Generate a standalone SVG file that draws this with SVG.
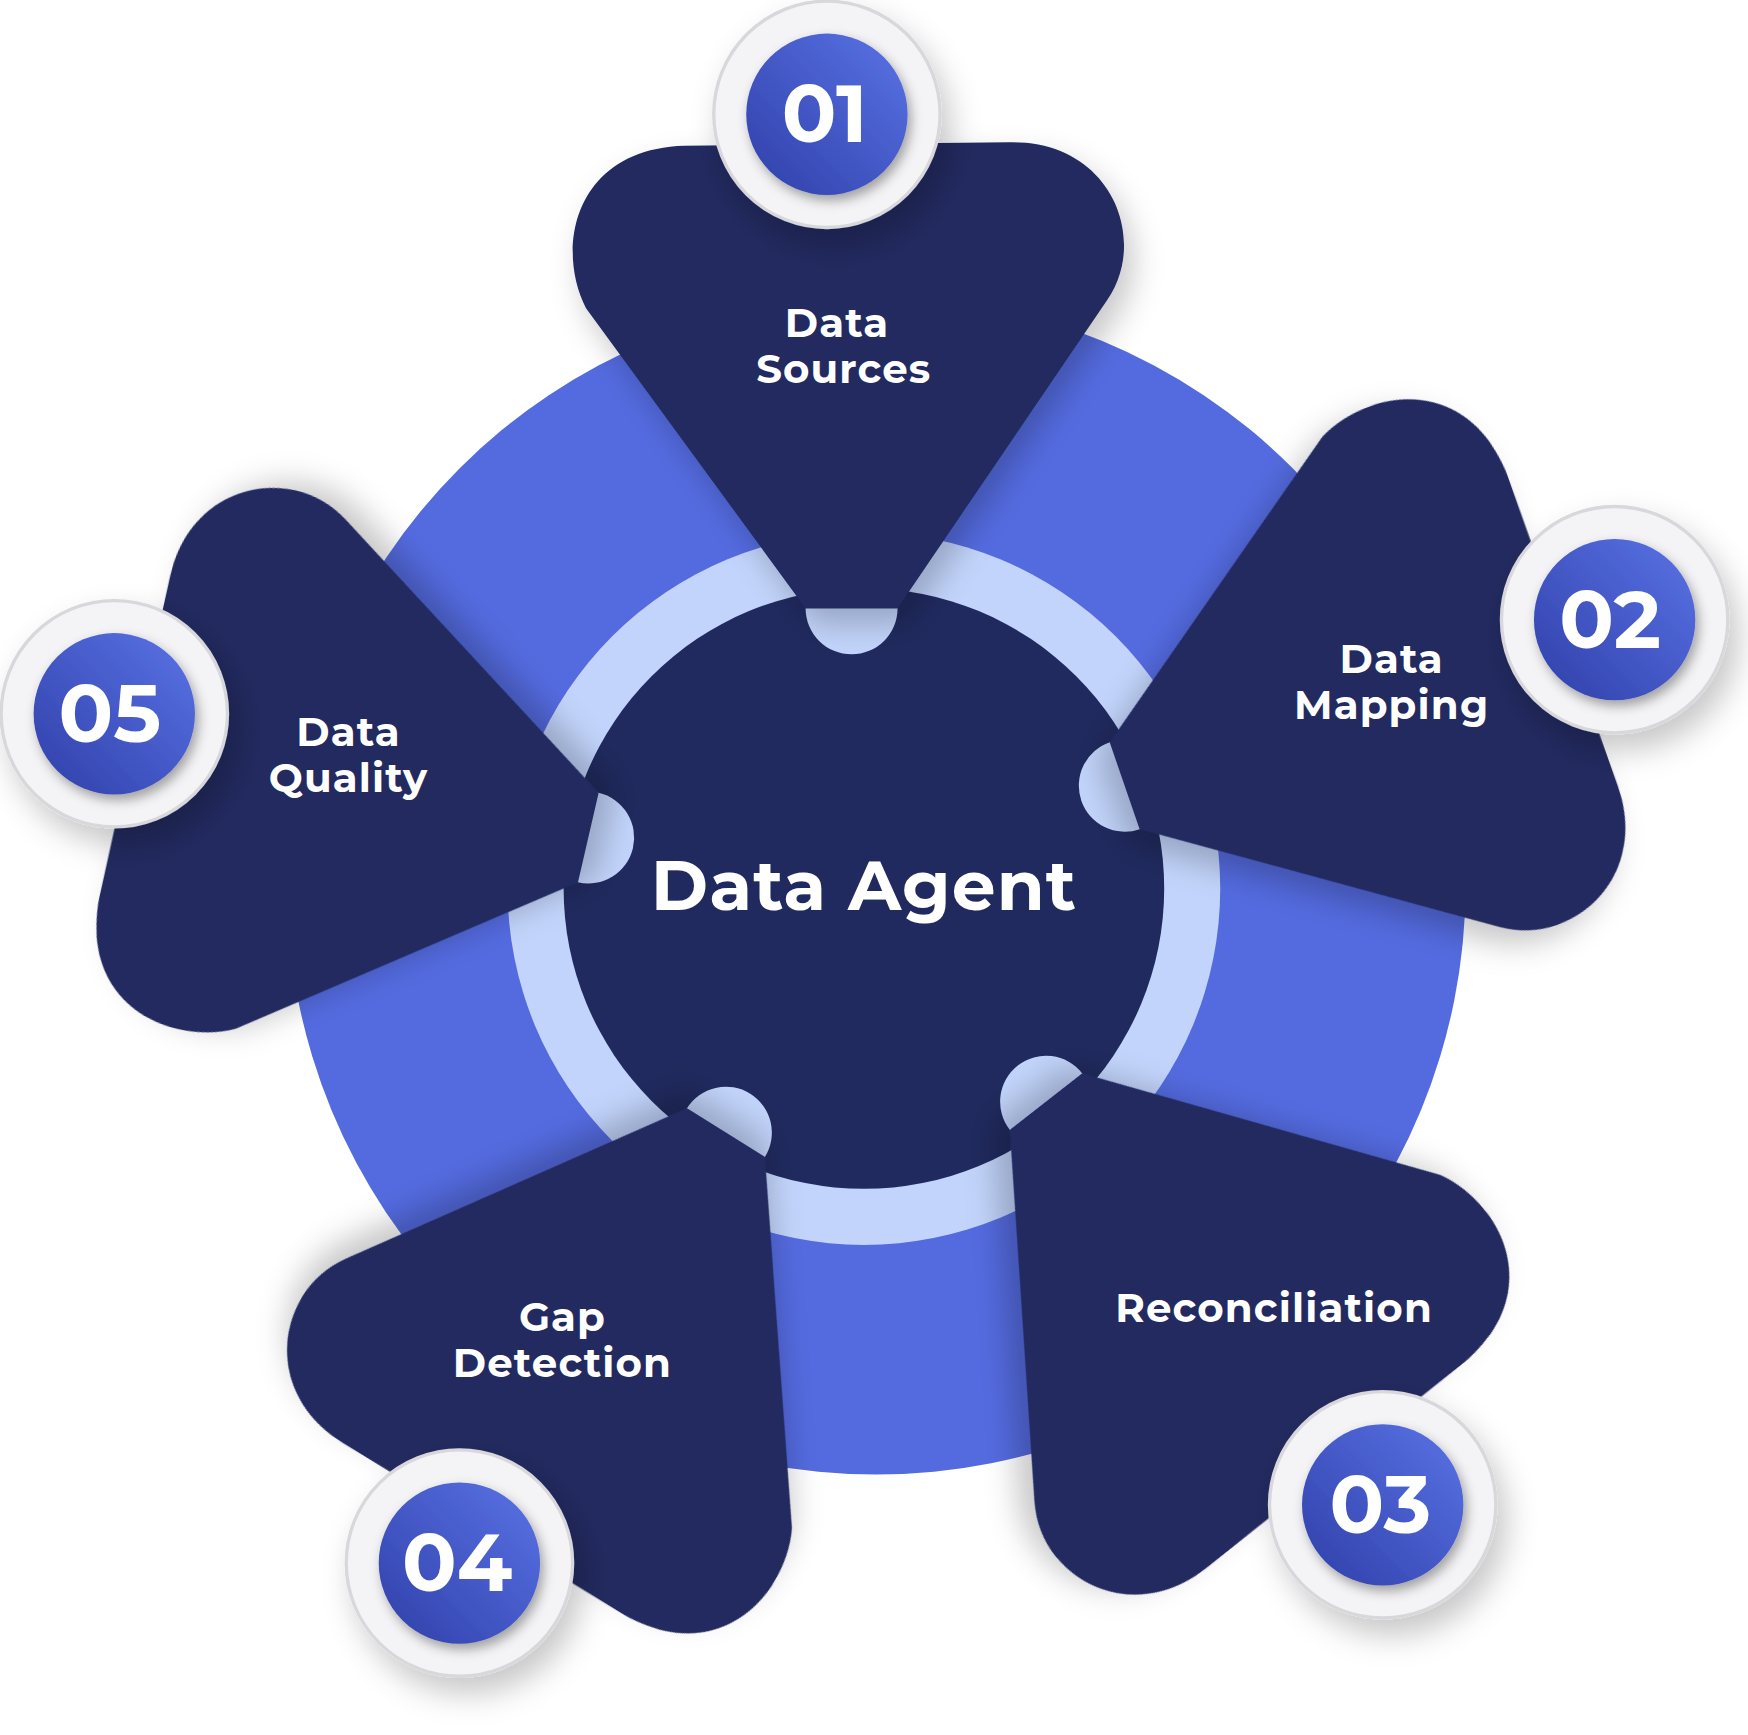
<svg xmlns="http://www.w3.org/2000/svg" width="1748" height="1735" viewBox="0 0 1748 1735">
<style>
.petal{fill:#202a5e;filter:url(#sh)}
.tip{fill:#c2d4fb}
.lbl{font-family:"Montserrat","Open Sans","Liberation Sans",sans-serif;font-weight:700;fill:#fff;font-size:36px;text-anchor:middle;letter-spacing:1px}
.num{font-family:"Montserrat","Open Sans","Liberation Sans",sans-serif;font-weight:700;fill:#fff;font-size:72px;text-anchor:middle}
.bo{fill:#f4f4f6;stroke:#d8d8dc;stroke-width:3;filter:url(#sh)}
.bi{fill:url(#bg);filter:url(#sh2)}
</style>
<defs>
<filter id="sh" x="-30%" y="-30%" width="160%" height="160%"><feDropShadow dx="8" dy="14" stdDeviation="14" flood-color="#000" flood-opacity="0.22"/></filter>
<filter id="sh2" x="-30%" y="-30%" width="160%" height="160%"><feDropShadow dx="3" dy="5" stdDeviation="5" flood-color="#000" flood-opacity="0.35"/></filter>
<linearGradient id="bg" x1="0" y1="1" x2="1" y2="0"><stop offset="0" stop-color="#2f3fa8"/><stop offset="1" stop-color="#5a73e6"/></linearGradient>
<path id="pt" d="M -52,-250 L -248,-518 C -275,-570 -260,-660 -160,-663 L 130,-666 C 220,-668 255,-580 217,-525 L 30,-250 Z"/>
<circle id="tp" cx="-11" cy="-250" r="41"/>
</defs>
<rect width="1748" height="1735" fill="#fff"/>
<g transform="scale(1.1205)">
<g id="ring">
<circle cx="782" cy="790" r="526" fill="#546be0"/>
<circle cx="771" cy="793" r="318" fill="#c2d4fb"/>
<circle cx="771" cy="793" r="268" fill="#202a5e"/>
<use href="#tp" class="tip" transform="translate(771,793) rotate(0)"/>
<use href="#tp" class="tip" transform="translate(771,793) rotate(71)"/>
<use href="#tp" class="tip" transform="translate(771,793) rotate(142)"/>
<use href="#tp" class="tip" transform="translate(771,793) rotate(212)"/>
<use href="#tp" class="tip" transform="translate(771,793) rotate(283)"/>
</g>
<g id="connectors">
<use href="#pt" class="petal" transform="translate(771,793) rotate(0)"/>
<use href="#pt" class="petal" transform="translate(771,793) rotate(71)"/>
<use href="#pt" class="petal" transform="translate(771,793) rotate(142)"/>
<use href="#pt" class="petal" transform="translate(771,793) rotate(212)"/>
<use href="#pt" class="petal" transform="translate(771,793) rotate(283)"/>
</g>
<g id="center">
<text x="771" y="812" class="lbl" style="font-size:62px">Data Agent</text></g>
<g id="n1"><circle cx="738" cy="102" r="101" class="bo"/><circle cx="738" cy="102" r="72" class="bi"/><text x="736" y="127" class="num">01</text>
<text x="747" y="301" class="lbl">Data</text><text x="753" y="342" class="lbl">Sources</text></g>
<g id="n2"><circle cx="1441" cy="553" r="101" class="bo"/><circle cx="1441" cy="553" r="72" class="bi"/><text x="1437" y="578" class="num">02</text>
<text x="1242" y="601" class="lbl">Data</text><text x="1242" y="642" class="lbl">Mapping</text></g>
<g id="n3"><circle cx="1234" cy="1343" r="101" class="bo"/><circle cx="1234" cy="1343" r="72" class="bi"/><text x="1232" y="1368" class="num">03</text>
<text x="1137" y="1180" class="lbl">Reconciliation</text></g>
<g id="n4"><circle cx="410" cy="1395" r="101" class="bo"/><circle cx="410" cy="1395" r="72" class="bi"/><text x="408" y="1420" class="num">04</text>
<text x="502" y="1188" class="lbl">Gap</text><text x="502" y="1229" class="lbl">Detection</text></g>
<g id="n5"><circle cx="102" cy="637" r="101" class="bo"/><circle cx="102" cy="637" r="72" class="bi"/><text x="98" y="662" class="num">05</text>
<text x="311" y="666" class="lbl">Data</text><text x="311" y="707" class="lbl">Quality</text></g>
</g>
</svg>
